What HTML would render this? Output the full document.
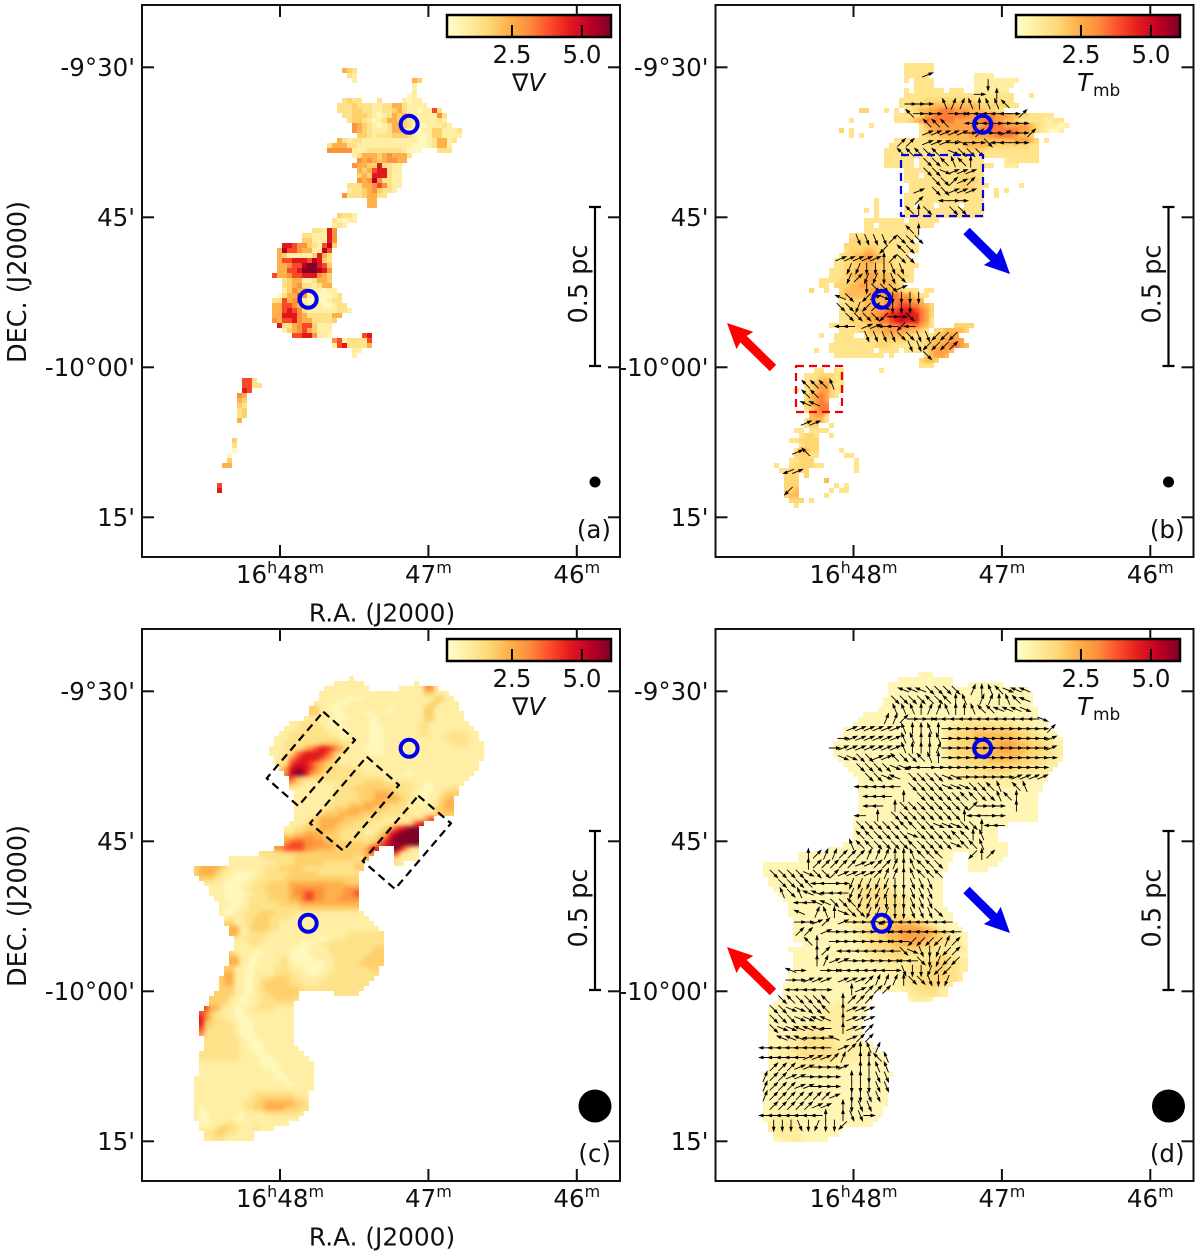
<!DOCTYPE html>
<html lang="en">
<head>
<meta charset="utf-8">
<title>Velocity gradient and intensity maps</title>
<style>
html,body{margin:0;padding:0;background:#fff}
svg{display:block}
text{font-family:"DejaVu Sans","Liberation Sans",sans-serif;fill:#111}
</style>
</head>
<body>
<svg id="figure" xmlns="http://www.w3.org/2000/svg" width="1200" height="1256" viewBox="0 0 1200 1256"></svg>
<script>
/* ---------- data ---------- */
const raTicks=[48,47,46];
const raLabels=[['16','h','48','m'],['47','m'],['46','m']];
const decTicks=[30,45,60,75];
const decLabels=["-9°30'","45'","-10°00'","15'"];
const colorbarTicks=[2.5,5.0];
const colorbarLabels=['2.5','5.0'];
const sourceRa=[47.13,47.81];
const sourceDec=[35.7,53.2];
const softLevelValues=[0.45,0.85,1.3,1.8,2.4,3.0,3.9,4.6,5.3,6.0];
const brightLevelValues=[0.3,0.9,1.25,1.7,2.2,2.7,3.3,3.9,4.5,5.0];
const paleLevelValues=[0.55,0.9,1.3,1.7,2.2,2.7,3.2,3.9,4.6,5.3];
const ylOrRd=['#ffffcc','#ffeda0','#fed976','#feb24c','#fd8d3c','#fc4e2a','#e31a1c','#bd0026','#800026'];
const arrowDirections='abcdefghijklmnop';

const gridA=["30|432","31|21","32|1...........43","44|1","44|1","43|01","30|2322...2....1011","29|222322211224421111","29|222332211223421101162","30|223332101243421111152","31|23321012443321111121","32|54321012443210011121","32|5432111244210011331112","33|332122233321001331111","29|421221111111111100124412","27|2444221111111111100012441","27|5555511122222221000...222","32|124443454442","33|5454345544","32|5443372211","33|434677211","33|343777211","33|545852211","31|22244565211","31|1223453221","30|522234422","35|44","35|44","","29|3221","28|21011","28|121","24|22175","22|2211175","22|3311175","18|77655321683","17|48665441186","17|43111113742","17|46677768732","17|44566899763","17|44667999875","16|644566777543","18|2344112443","18|2345221244","18|13544111011","17|0244651100012","16|22645610000122","16|446654111100122","16|4467652111111221","16|44777542222244","16|5466754422223","17|72245663111","18|1345643111","20|66775110......67","28|56122226","28|16722224","32|11","32|1","","","","","10|662","10|6622","10|76","9|54","9|43","9|32","9|23","9|23","9|4","","","","8|3","8|2","8|0","7|0","7|3","6|44","","","","5|6","5|7"];

const gridB=["27|222222","27|222222","27|22222.........1111","27|2.2222........111111111","29|2222........11111111","27|2.222222.222..1111111","27|2222222222222222222222...2","26|22222333333333322222222","26|222333444444444433333322","18|33...2.2.22344556665554443322","25|22222355666666655556555443322222","16|2........2223456666665555566655443222221122","20|2.........245555555555567665555543211101","14|3.2.............23455555555566666666554321001","16|2.2...........23334444445555566665443","25|22222223333444444444444455543.2","24|222222222333333444443333333322","23|2222222222223333333322222222222","23|2222222222222222222222222222222","23|222222.2222222222222....1222222","23|222222.222222222222222..111","27|2222222222222222","27|222.222222233322","27|2222222222233332","28|2222222222333222......2","28|222222222233322..2.2","27|2222222222222222..2","21|2.....2222222222222222","21|2.....22.222.2222.2222","19|2.2.....2222222222222222","21|2.....2222222222222222","19|22222222.222222","19|22.22222222222","19|22222222222","16|22222222222222","16|3333222222222","15|333333322222222","15|233344332222222","14|23344554322222","13|2233445544332222","13|22333444333322222","12|22233444443333322","12|22234445544433332","10|2222333445544443222","10|22.33344554444432","8|3..2..3444445555443222.22","14|344444555566554322","14|22333444455666554","14|2233344445667766543","14|2233444556778887653","14|2233445567889988653","14|2233344566789888652","12|222223334455667666542....3333","14|222233444555554432.3344443","10|2..2222..2333444433222234455","13|22222222233333322233445555","12|2222222223332222222344556654","9|2..222222222.2222.2222345554","13|2222222222.2......34554","30|3443","30|222","9|22..22.......2","7|22233322","7|22344322","7|23455322","5|2.23455322","7|2456532","7|34565","7|34566","7|23566","8|4552","7|24442","7|233..2","5|22.2222","6|2332..2","4|223333","6|2333","5|24433....2","5|33322.....22","4|22333........2","1|2..2333322......2","2|223333.........2","3|333.3","3|333.....4","3|333.......2.2","3|334......2.22","3|344.....2","4|333.2","5|2"];

const gridC=["31|1","28|111111..........1","26|111111111......11111551","25|11111111111111111111133111","25|111110000111111111111113311","24|11110001111111111111111331111","23|331100111111111101111113311111","23|3311100111100110111111133111111","22|11111100011110011111111133111111","19|112222110011111100111111112211111111","18|11122222111001111000111111122111111111","17|1122222222110011110001111111221111222111","16|11122222222221111110001111111111112222211","16|112222222333322111100011111111111111222111","15|1112222 45677654 2111000011111111111111111111","15|11122 56777765 321111100011111111111111111111","16|122 56777765 4211111111111111111111111111111","16|122 677765 43221111111111111111111111111111","17|3 57887 654 3322222111111111111111111111111","18|5 899 75 432 22222221111111100111111111111","19|643222 222222222222211111111111111111","19|43211111112222233332222211100111111","19|1111111112222333333332222110011122","20|111111112222233344433221100111333","20|11111111222223334444432210011334","20|11111112222333444433322110111344","20|11111122333444443332222111113344","20|11111233344443333222222111113333","20|1112344444333322221111122256","19|111233444433322221111222367","18|11223334443322221112 3467899","18|22334444333222221123 4789999","18|44555544333222222234 6899999","18|566655554433333323 467899999","16|55666655444433333346 7 ... 97521","13|22222233333333333333345 .... 62111","7|1111111222222333333333333224 ..... 21111","7|111111111222233333322222233 ...... 21","0|3444432111111122233333222222222233","0|344432110000112222233333322222222","1|33321100001122222333333333333333","2|1111000011222333344444444444333","3|1110001122233333 45555554444555","3|1110000112223333 45566554444556","4|110000122223333 44566554445555","5|11000122222233 33444444444444","5|10001122222222 22333333333333","5|100112223332222 11111111111111","6|12112233322221 111111111111111","6|33112233322111 1111111111111111","7|44113333221111 1111111111111111","7|4411222211111 111111111112222222","8|112222111111 111100011122222222","8|111221111111 100011222222222222","8|111111111111 000111122222222233","7|311110011111 0000111122222222333","7|441100111122 0000011112222223333","7|441100111122 1000000112222233333","6|3311001111222 111000011222222233","6|4411001111222 211100112222222222","5|34411001222333 22111112222222222","5|3441100123333 32221112222222222","5|3331100123333 3332222222222222","4|33331100122333333 ....... 22222","3|333311001122233332","3|33321100112222222","2|644211001122221111","1|6532111001111111111","1|7532211000111111111","1|7332222100011111111","1|6322222100011111111","1|5222222100011111111","2|222222210001111111","2|222222211000111111","2|2222222110001111111","1|222222221110001111111","1|2222222211110001111111","1|11111111111100001111111","1|11111111111110001111111","1|11111111111111100111111","0|111111111111111100011111","0|111111111111111111001111","0|111111111111111111111111","0|11111111111122222222111","0|11111111111223333333221","0|11111111112233444444332","0|10111111112233444433322","0|1001111110111122222221","0|100111110011111111111","1|001112211111111111","1|111233221112111","2|2233221111","2|1122111111"];

const gridD=["31|0:3","27|0:11","25|0:13 .:3 0:7","25|0:28","25|0:29","24|0:30","24|0:30","23|0:32","20|0:35","19|0:20 1:10 0:7","18|0:19 1:3 2:10 1:4 0:3","16|0:20 1:2 2:3 3:10 2:3 1:2 0:2","16|0:20 1:1 2:2 3:3 4:8 3:3 2:2 1:2 0:2","15|0:21 1:1 2:2 3:3 4:9 3:3 2:2 1:2 0:2","14|0:22 1:1 2:2 3:3 4:5 5:3 4:3 3:3 2:2 1:2","14|0:22 1:1 2:2 3:3 4:5 5:3 4:3 3:3 2:2 1:2","14|0:22 1:1 2:2 3:4 4:9 3:3 2:3 1:2","15|0:21 1:2 2:3 3:4 4:6 3:3 2:3 1:2 0:1","16|0:20 1:3 2:4 3:9 2:4 1:3","17|0:19 1:4 2:5 3:5 2:4 1:4","18|0:19 1:6 2:7 1:7","19|0:18 1:16 0:4","19|0:22 1:10 0:5","19|0:37","19|0:36","19|0:36","19|0:36","19|0:36","19|0:36","18|0:37","18|0:31","18|0:29","18|0:29","18|0:29","16|0:33","13|0:36","7|0:31 .:3 0:8","7|0:31 .:3 0:7","0|0:37 .:4 0:6","0|0:37 .:4 0:4","0|0:36","1|0:16 1:8 0:11","1|0:15 1:10 0:10","2|0:14 1:3 2:5 1:3 0:9","3|0:13 1:3 2:7 1:3 0:7","4|0:12 1:3 2:8 1:3 0:6","5|0:11 1:3 2:9 1:3 0:5","5|0:11 1:3 2:9 1:3 0:6","5|0:12 1:3 2:8 1:3 0:7","6|0:12 1:3 2:3 3:4 2:2 1:3 0:5","6|0:12 1:3 2:2 3:3 4:5 3:2 1:2 0:4","6|0:12 1:2 2:2 3:2 4:3 5:5 4:2 3:1 1:2 0:3","6|0:13 1:2 2:2 3:2 4:2 5:6 4:2 3:2 1:2 0:2","6|0:13 1:2 2:2 3:2 4:3 5:4 4:2 3:2 2:2 1:2 0:1","8|0:11 1:2 2:2 3:3 4:6 3:2 2:3 1:3 0:1","5|0:14 1:2 2:3 3:7 2:4 1:4 2:1 1:1","6|0:14 1:3 2:3 3:3 2:2 1:3 2:3 1:2 0:2","6|0:15 1:5 2:2 1:4 2:3 3:2 2:2 1:2","6|0:16 1:7 2:4 3:4 2:2 1:2","6|0:18 1:5 2:4 3:4 2:2 1:2","5|0:20 1:4 2:4 3:4 2:2 1:1","5|0:22 1:2 2:3 3:5 2:2 1:1","4|0:23 1:2 2:3 3:3 2:2 1:1","4|0:24 1:2 2:5 1:2","4|0:18 .:7 1:2 2:4 1:2","3|0:19 .:7 0:1 1:3 0:1","2|0:12 1:3 0:4","1|0:11 1:6 0:3","1|0:11 1:6 0:3","1|0:10 1:7 0:2","1|0:6 1:11 0:2","1|0:5 1:12 0:2","1|0:5 1:3 2:3 1:6 0:2","1|0:4 1:3 2:5 1:5 0:2","1|0:3 1:3 2:7 1:6 0:2","1|0:2 1:3 2:9 1:6 0:2","1|0:2 1:4 2:8 1:6 0:3","1|0:2 1:5 2:6 1:6 0:5","1|0:3 1:12 0:9","1|0:5 1:9 0:10","0|0:26","0|0:25","0|0:25","0|0:25","0|0:25","0|0:25","0|0:25","0|0:24","0|0:2 1:4 0:18","0|0:2 1:5 0:16","1|1:6 0:15","1|1:8 0:7","2|1:6 0:7","2|0:2 1:4 0:5"];

const vectorsB=["17|b","24|m","23|a.e","15|aaa.fddfeffg","15|gaaa.aaiiiiiac","17|ggg..iiiaaaa","17|bbbbbacaabaac","14|cc.bbbapaaoiiaa","14|gggog.pooo","17|oogfge","17|oopbbb","18|oocbc","16|b.oobbb","16|c..iaa","15|geo..oo","","15|ge","9|nnnncooo","12|k.go","7|bbbbbecoo","8|llmmmnn","8|lcllmno","10|mooob","7|ho.kbpmmmm","7|oolkcpmmm","7|.ooookaao","7|ii.bbiiki","10|nnnnoonnkkk","15|nnkkkc","17|o","","","3|gggf","3|gg","3|hh","","3|bb","","","2|bg","","1|jb","","1|k"];

const vectorsD=["16|hhhoooo.defgphh","15|oooogogef.ddefgh","14|.fffeddfeefgghhhp","14|ddcaaaiiiiiiiiiiiip","10|bbbbbbfeefeaaaaaaaaaaaac","9|abbbbbbffeefaaaaaaaaaaaab","8|abbbbbbbfeeedaaaaaaaaaaaab","9|ppoobbgoogfeaaaaaaaaaaaaa","11|ooooppiiaaaaaaaaaaaaaa","12|ooph.ooooppaaaaaabbbb","11|iiiii.oooopppoogf.gf","12|iii.e.oooooggoofge","12|ii.eoooooooocaaa.e","11|i.e.ooooooooeiiaa","11|oooooggoopppooeii","11|ggoooopooooggef","10|fggoooogoooopggf","5|ecddcccdddeefggg...kec","5|ecccccbbccdefggo","1|oooopoocbbbbcddefggg","2|ooogiiaalllllmmnnn","2|fofhhiiilllllmmnnn","4|iihhooglllmmmnnn","4|h.dfepoolllmmnnno","4|aabc.baaapiiiiiiii","4|cc.baaaaaaaiiiiiiii","5|ge.aaaaaaaiikkkkdc","6|ec.iiiiiiiopnmlkc","6|edbbaaaaaaiiomlkk","3|ha..aaiiiiiianmmlkk","3|aabbb.bbbcdddeoonml","3|iiiia..ebccc","2|ogooog.eccc","1|ooppoog.ebbb","1|ooopphh.ebbb","1|opphhhi.ebbc","1|.hhhiiih.bcc","0|iiiiiiii.bcefd","0|iiiiibbbcd.eegf","0|.cccbbaaab.eeff","0|dccbbaaaa.eemnn","0|dcccbbaaa.mmmnn","0|dcccccccb.mmnn","0|.cccccbb.emnn","0|iiiiiiie.enna","1|mmmnmlmmk"];

/* ---------- helpers and scales ---------- */
const SVGNS='http://www.w3.org/2000/svg';
const svg=document.getElementById('figure');
const PANEL_W=478,PANEL_H=552;
const CELL=5;
function make(tag,attrs,parent){
  const n=document.createElementNS(SVGNS,tag);
  for(const k in attrs)n.setAttribute(k,attrs[k]);
  parent.appendChild(n);
  return n;
}
function raX(m){return 138+148.4*(48-m);}
function decY(d){return 62.3+10*(d-30);}
function cbarX(v){return (v-0.18)*28;}
function hexRgb(h){return [1,3,5].map(i=>parseInt(h.substr(i,2),16));}
function colorOf(v){
  const t=Math.max(0,Math.min(1,(v-0.18)/5.82))*(ylOrRd.length-1);
  const i=Math.min(ylOrRd.length-2,Math.floor(t)),f=t-i;
  const a=hexRgb(ylOrRd[i]),b=hexRgb(ylOrRd[i+1]);
  return 'rgb('+a.map((x,j)=>Math.round(x+(b[j]-x)*f)).join(',')+')';
}
function drawCell(parent,x,y,lv,lookup){
  const rect=make('rect',{x:x,y:y,width:CELL,height:CELL,fill:colorOf(lookup[lv]),'shape-rendering':'crispEdges'},parent);
  
  
}
function drawGrid(parent,rows,x0,y0,lookup){
  rows.forEach((row,r)=>{
    if(!row)return;
    const parts=row.split('|');
    let c=+parts[0];
    parts[1].split(' ').forEach(tok=>{
      if(tok.indexOf(':')>=0){
        const p=tok.split(':');
        for(let i=0;i<+p[1];i++){
          if(p[0]!=='.')drawCell(parent,x0+c*CELL,y0+r*CELL,+p[0],lookup);
          c++;
        }
      }else{
        for(const ch of tok){
          if(ch!=='.')drawCell(parent,x0+c*CELL,y0+r*CELL,+ch,lookup);
          c++;
        }
      }
    });
  });
}
function drawVectors(parent,rows,x0,y0){
  const L=5.6,DX=8.67,DY=9.67;
  rows.forEach((row,k)=>{
    if(!row)return;
    const parts=row.split('|');
    let j=+parts[0];
    for(const ch of parts[1]){
      const idx=arrowDirections.indexOf(ch);
      if(idx>=0){
        const ang=idx*Math.PI/8,cx=x0+j*DX,cy=y0+k*DY;
        const ux=Math.cos(ang),uy=-Math.sin(ang);
        const tx=cx+ux*L,ty=cy+uy*L,bx=cx-ux*L,by=cy-uy*L;
        const hx=tx-ux*3.6,hy=ty-uy*3.6;
        const d='M'+bx.toFixed(1)+' '+by.toFixed(1)+'L'+hx.toFixed(1)+' '+hy.toFixed(1)+
          'M'+tx.toFixed(1)+' '+ty.toFixed(1)+'L'+(hx-uy*1.2).toFixed(1)+' '+(hy+ux*1.2).toFixed(1)+
          'L'+(hx+uy*1.2).toFixed(1)+' '+(hy-ux*1.2).toFixed(1)+'Z';
        const arrow=make('path',{d:d,stroke:'#000','stroke-width':0.9,fill:'#000'},parent);
        
        
      }
      j++;
    }
  });
}
function drawOutflow(parent,x1,y1,x2,y2,color,name){
  const len=Math.hypot(x2-x1,y2-y1),ux=(x2-x1)/len,uy=(y2-y1)/len;
  const bx=x2-ux*25,by=y2-uy*25,nx=bx+ux*3,ny=by+uy*3;
  const shaft=make('line',{x1:x1,y1:y1,x2:nx,y2:ny,stroke:color,'stroke-width':9},parent);
  
  
  const pts=[[x2,y2],[bx-uy*12,by+ux*12],[bx+ux*3,by+uy*3],[bx+uy*12,by-ux*12]].map(p=>p.map(v=>v.toFixed(1)).join(',')).join(' ');
  const head=make('polygon',{points:pts,fill:color},parent);
  
  
}

/* ---------- shared defs ---------- */
const defs=make('defs',{},svg);
const grad=make('linearGradient',{id:'ylorrd',x1:0,x2:1,y1:0,y2:0},defs);
ylOrRd.forEach((c,i)=>make('stop',{offset:i/(ylOrRd.length-1),'stop-color':c},grad));
function smoothFilter(id,sd){
  const f=make('filter',{id:id,'color-interpolation-filters':'sRGB',x:'-5%',y:'-5%',width:'110%',height:'110%'},defs);
  make('feGaussianBlur',{in:'SourceGraphic',stdDeviation:sd,result:'soft'},f);
  const ct=make('feComponentTransfer',{in:'soft',result:'solid'},f);
  make('feFuncA',{type:'table',tableValues:'0 1 1 1 1 1 1 1 1 1'},ct);
  make('feComposite',{in:'solid',in2:'SourceAlpha',operator:'in'},f);
}
smoothFilter('smooth-fine',1.4);
smoothFilter('smooth-wide',2.2);

/* ---------- panels ---------- */
function drawPanel(p){
  const g=make('g',{},svg);
  
  

  const cells=make('g',{},g);
  
  
  if(p.smooth)cells.setAttribute('filter','url(#'+p.smooth+')');
  drawGrid(cells,p.grid,p.gx,p.gy,p.lookup);

  if(p.vectors){
    const vg=make('g',{},g);
    
    
    drawVectors(vg,p.vectors,p.vx,p.vy);
  }

  const ax=make('g',{transform:'translate('+p.l+','+p.t+')'},g);
  
  

  const frame=make('rect',{x:0,y:0,width:PANEL_W,height:PANEL_H,fill:'none',stroke:'#111','stroke-width':2},ax);
  
  

  raTicks.forEach((m,i)=>{
    const x=raX(m);
    const tb=make('line',{x1:x,x2:x,y1:PANEL_H,y2:PANEL_H-12,stroke:'#111','stroke-width':2},ax);
    
    
    const tt=make('line',{x1:x,x2:x,y1:0,y2:12,stroke:'#111','stroke-width':2},ax);
    
    
    const lab=make('text',{x:x,y:PANEL_H+26,'text-anchor':'middle','font-size':24.5},ax);
    
    
    raLabels[i].forEach((s,n)=>{
      const sup=n%2===1;
      const ts=make('tspan',{'font-size':sup?16:24.5,dy:n===0?0:(sup?-10:10)},lab);
      ts.textContent=s;
    });
  });
  decTicks.forEach((d,i)=>{
    const y=decY(d);
    const tl=make('line',{x1:0,x2:12,y1:y,y2:y,stroke:'#111','stroke-width':2},ax);
    
    
    const tr=make('line',{x1:PANEL_W,x2:PANEL_W-12,y1:y,y2:y,stroke:'#111','stroke-width':2},ax);
    
    
    const lab=make('text',{x:-7,y:y+8.5,'text-anchor':'end','font-size':24.5},ax);
    
    
    lab.textContent=decLabels[i];
  });

  const cb=make('g',{transform:'translate('+p.cbx+',10)'},ax);
  
  
  const bar=make('rect',{x:0,y:0,width:164,height:22,fill:'url(#ylorrd)',stroke:'#000','stroke-width':2.5},cb);
  
  
  colorbarTicks.forEach((v,i)=>{
    const x=cbarX(v);
    const t=make('line',{x1:x,x2:x,y1:22,y2:10,stroke:'#000','stroke-width':2},cb);
    
    
    const lab=make('text',{x:x,y:48,'text-anchor':'middle','font-size':24.5},cb);
    
    
    lab.textContent=colorbarLabels[i];
  });
  const cbTitle=make('text',{x:65,y:76,'font-size':24.5},cb);
  
  
  if(p.tmb){
    const t1=make('tspan',{'font-style':'italic'},cbTitle);t1.textContent='T';
    const t2=make('tspan',{'font-size':17,dy:5,dx:1},cbTitle);t2.textContent='mb';
    cbTitle.setAttribute('x',61);
  }else{
    const t1=make('tspan',{},cbTitle);t1.textContent='∇';
    const t2=make('tspan',{'font-style':'italic'},cbTitle);t2.textContent='V';
  }

  const sb=make('path',{d:'M447 202H459M453 202V361M447 361H459',fill:'none',stroke:'#000','stroke-width':2.2},ax);
  
  
  const sbl=make('text',{transform:'translate(445,279) rotate(-90)','text-anchor':'middle','font-size':25.5},ax);
  
  
  sbl.textContent='0.5 pc';

  const beam=make('circle',{cx:453,cy:477,r:p.beam,fill:'#000'},ax);
  
  

  const letter=make('text',{x:p.letterX,y:533,'text-anchor':'end','font-size':24.5},ax);
  
  
  letter.textContent='('+p.id+')';

  if(p.raTitle){
    const rt=make('text',{x:240,y:PANEL_H+64.5,'text-anchor':'middle','font-size':24.8},ax);
    
    
    rt.textContent='R.A. (J2000)';
  }
  if(p.decTitle){
    const dt=make('text',{transform:'translate(-116,277) rotate(-90)','text-anchor':'middle','font-size':25.5},ax);
    
    
    dt.textContent='DEC. (J2000)';
  }

  p.extras(ax);

  sourceRa.forEach((m,i)=>{
    const ring=make('circle',{cx:raX(m),cy:decY(sourceDec[i]),r:8.5,fill:'none',stroke:'#0000ee','stroke-width':4},ax);
    
    
  });
}
function dashedRect(parent,pts,color,name){
  const poly=make('polygon',{points:pts,fill:'none',stroke:color,'stroke-width':2.2,'stroke-dasharray':'8 5','stroke-linejoin':'round'},parent);
  
  
}
drawPanel({id:'a',l:142,t:5,grid:gridA,gx:192,gy:68,lookup:softLevelValues,cbx:305,beam:5.5,letterX:469,raTitle:true,decTitle:true,extras:function(){}});
drawPanel({id:'b',l:715.5,t:5,grid:gridB,gx:769,gy:63,lookup:brightLevelValues,smooth:'smooth-fine',vectors:vectorsB,vx:780,vy:75,cbx:300.5,tmb:true,beam:5.5,letterX:469,extras:function(ax){
  dashedRect(ax,'185.5,150 267.5,150 267.5,211 185.5,211','#0000ee','blue-region-box');
  dashedRect(ax,'80.5,361 126.5,361 126.5,407 80.5,407','#ee0000','red-region-box');
  drawOutflow(ax,57.5,363,11.5,318,'#ff0000','red-outflow-arrow');
  drawOutflow(ax,251,226,294.5,269,'#0000ee','blue-outflow-arrow');
}});
drawPanel({id:'c',l:142,t:629,grid:gridC,gx:194,gy:676,lookup:softLevelValues,smooth:'smooth-wide',cbx:305,beam:16.5,letterX:469,raTitle:true,decTitle:true,extras:function(ax){
  dashedRect(ax,'181.3,82.7 213,111 156.3,177 124.7,149.3','#000','filament-box-1');
  dashedRect(ax,'224.7,127.7 257,156 201.3,221.7 168,194.3','#000','filament-box-2');
  dashedRect(ax,'276.3,166.7 309,194.3 253,260 220.7,232','#000','filament-box-3');
}});
drawPanel({id:'d',l:715.5,t:629,grid:gridD,gx:763,gy:672,lookup:paleLevelValues,smooth:'smooth-wide',vectors:vectorsD,vx:765,vy:690,cbx:300.5,tmb:true,beam:16.5,letterX:469,extras:function(ax){
  drawOutflow(ax,57.5,363,11.5,318,'#ff0000','red-outflow-arrow');
  drawOutflow(ax,251,261,294.5,304,'#0000ee','blue-outflow-arrow');
}});
</script>
</body>
</html>
